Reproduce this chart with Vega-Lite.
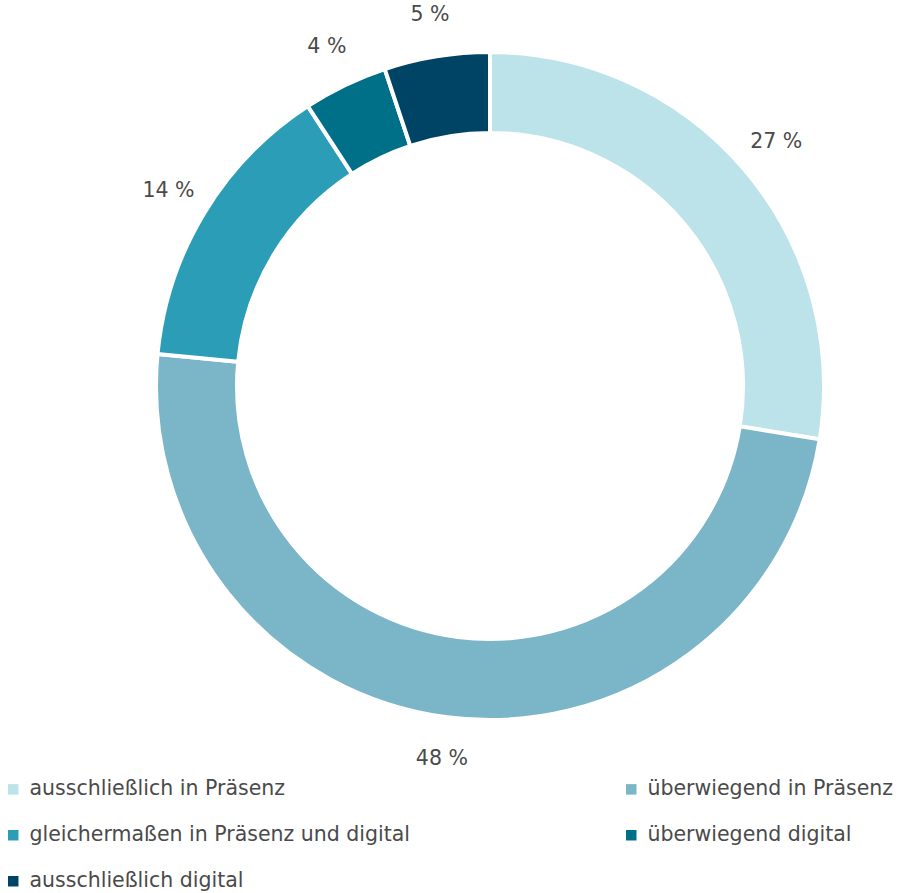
{
  "$schema": "https://vega.github.io/schema/vega-lite/v6.json",
  "width": 834,
  "height": 772,
  "autosize": {"type": "none"},
  "padding": {"left": 73, "top": 0, "right": 0, "bottom": 121},
  "background": "white",
  "config": {"view": {"stroke": null}, "font": "DejaVu Sans"},
  "data": {
    "values": [
      {"cat": "ausschließlich in Präsenz", "value": 27, "ord": 1, "label": "27 %"},
      {"cat": "überwiegend in Präsenz", "value": 48, "ord": 2, "label": "48 %"},
      {"cat": "gleichermaßen in Präsenz und digital", "value": 14, "ord": 3, "label": "14 %"},
      {"cat": "überwiegend digital", "value": 4, "ord": 4, "label": "4 %"},
      {"cat": "ausschließlich digital", "value": 5, "ord": 5, "label": "5 %"}
    ]
  },
  "encoding": {
    "theta": {"field": "value", "type": "quantitative", "stack": true},
    "order": {"field": "ord", "type": "quantitative"}
  },
  "layer": [
    {
      "mark": {"type": "arc", "outerRadius": 334, "innerRadius": 253, "stroke": "white", "strokeWidth": 4},
      "encoding": {
        "color": {
          "field": "cat",
          "type": "nominal",
          "sort": null,
          "scale": {
            "domain": ["ausschließlich in Präsenz", "gleichermaßen in Präsenz und digital", "ausschließlich digital", "überwiegend in Präsenz", "überwiegend digital"],
            "range": ["#bde3ea", "#2b9db6", "#004465", "#7bb5c8", "#006f88"]
          },
          "legend": {
            "title": null,
            "orient": "none",
            "legendX": -70,
            "legendY": 779,
            "columns": 2,
            "columnPadding": 210,
            "rowPadding": 25,
            "symbolType": "square",
            "symbolSize": 110,
            "symbolStrokeWidth": 0,
            "labelFontSize": 20.5,
            "labelFont": "DejaVu Sans",
            "labelColor": "#4a4a4a",
            "labelOffset": 6,
            "labelLimit": 600
          }
        }
      }
    },
    {
      "mark": {"type": "text", "radius": 376, "fontSize": 20.5, "color": "#4a4a4a", "font": "DejaVu Sans"},
      "encoding": {"text": {"field": "label", "type": "nominal"}}
    }
  ]
}
